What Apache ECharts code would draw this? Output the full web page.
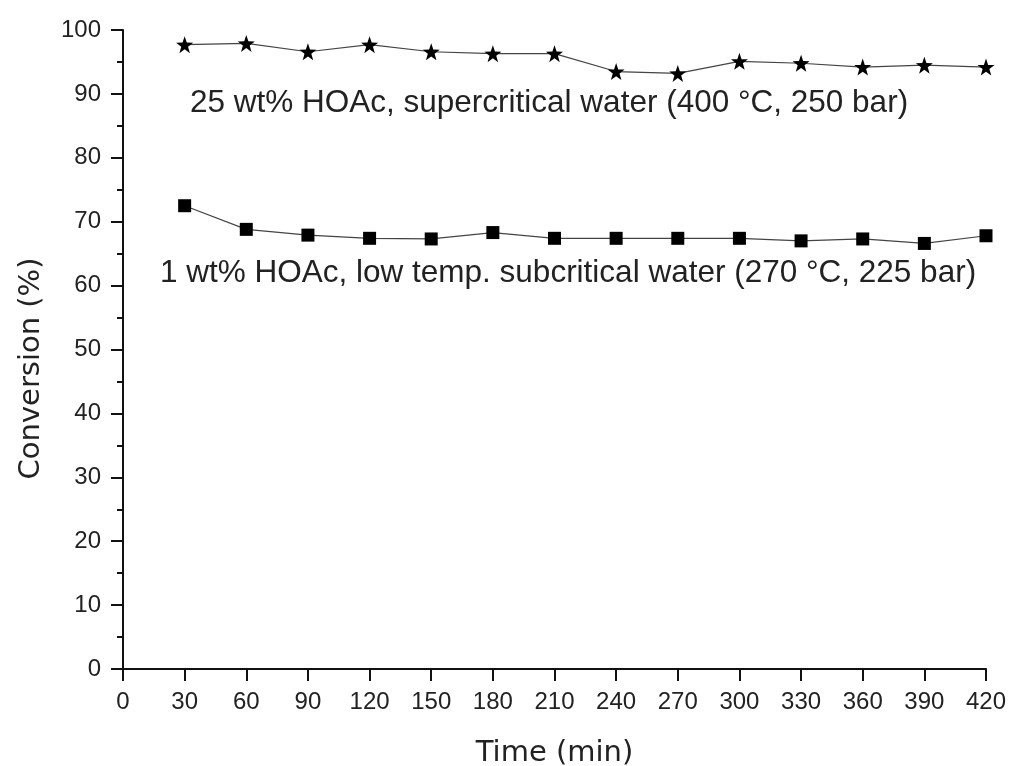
<!DOCTYPE html>
<html>
<head>
<meta charset="utf-8">
<script src="https://cdn.jsdelivr.net/npm/echarts@6/dist/echarts.min.js"></script>
<style>
  html, body { margin: 0; padding: 0; background: #fff; }
  #chart { width: 1009px; height: 766px; }
</style>
</head>
<body>
<div id="chart"></div>
<script>
// Sampling times (min)
const times = [30, 60, 90, 120, 150, 180, 210, 240, 270, 300, 330, 360, 390, 420];
// Conversion (%) — 25 wt% HOAc in supercritical water
const scwConversion = [97.7, 97.9, 96.6, 97.7, 96.6, 96.3, 96.3, 93.5, 93.2, 95.1, 94.8, 94.2, 94.5, 94.2];
// Conversion (%) — 1 wt% HOAc in low-temperature subcritical water
const subConversion = [72.5, 68.8, 67.9, 67.4, 67.3, 68.3, 67.4, 67.4, 67.4, 67.4, 67.0, 67.3, 66.6, 67.8];

const scwLabel = '25 wt% HOAc, supercritical water (400 \u00B0C, 250 bar)';
const subLabel = '1 wt% HOAc, low temp. subcritical water (270 \u00B0C, 225 bar)';

const pair = (xs, ys) => xs.map((x, i) => [x, ys[i]]);

const tickFont = { fontFamily: 'Liberation Sans, Arial, sans-serif', fontSize: 24, color: '#222' };
const titleFont = { fontFamily: 'DejaVu Sans, Verdana, sans-serif', fontSize: 29, color: '#222' };
const axisColor = '#111';

const chart = echarts.init(document.getElementById('chart'), null, { renderer: 'canvas' });
chart.setOption({
  backgroundColor: '#fff',
  animation: false,
  grid: { left: 123, right: 23, top: 30, bottom: 97, containLabel: false, outerBoundsMode: 'none' },
  xAxis: {
    type: 'value', min: 0, max: 420, interval: 30,
    name: 'Time (min)', nameLocation: 'middle', nameGap: 70,
    nameTextStyle: titleFont,
    axisLine: { show: true, onZero: false, lineStyle: { color: axisColor, width: 2 } },
    axisTick: { show: true, inside: false, length: 12, lineStyle: { color: axisColor, width: 2 } },
    axisLabel: Object.assign({ margin: 21 }, tickFont),
    splitLine: { show: false }
  },
  yAxis: {
    type: 'value', min: 0, max: 100, interval: 10,
    name: 'Conversion (%)', nameLocation: 'middle', nameGap: 77, nameRotate: 90,
    // extra space after the title nudges it a little below the axis midpoint
    nameTextStyle: Object.assign({ padding: [0, 38, 0, 0] }, titleFont),
    axisLine: { show: true, onZero: false, lineStyle: { color: axisColor, width: 2 } },
    axisTick: { show: true, inside: false, length: 12, lineStyle: { color: axisColor, width: 2 } },
    minorTick: { show: true, splitNumber: 2, length: 6, lineStyle: { color: axisColor, width: 2 } },
    axisLabel: Object.assign({ margin: 22 }, tickFont),
    splitLine: { show: false }
  },
  series: [
    {
      name: scwLabel, type: 'line', data: pair(times, scwConversion),
      symbol: 'path://M0,-10L2.35,-3.24L9.51,-3.09L3.8,1.24L5.88,8.09L0,4L-5.88,8.09L-3.8,1.24L-9.51,-3.09L-2.35,-3.24Z',
      symbolSize: 17, showAllSymbol: true,
      itemStyle: { color: '#000' },
      lineStyle: { color: '#444', width: 1.2 },
      clip: false
    },
    {
      name: subLabel, type: 'line', data: pair(times, subConversion),
      symbol: 'rect', symbolSize: 13, showAllSymbol: true,
      itemStyle: { color: '#000' },
      lineStyle: { color: '#444', width: 1.2 },
      clip: false
    }
  ],
  graphic: [
    {
      type: 'text', left: 190, top: 87,
      style: { text: scwLabel, fontFamily: 'Liberation Sans, Arial, sans-serif', fontSize: 31.5, fill: '#222' }
    },
    {
      type: 'text', left: 160, top: 257,
      style: { text: subLabel, fontFamily: 'Liberation Sans, Arial, sans-serif', fontSize: 31.5, fill: '#222' }
    }
  ]
});
</script>
</body>
</html>
